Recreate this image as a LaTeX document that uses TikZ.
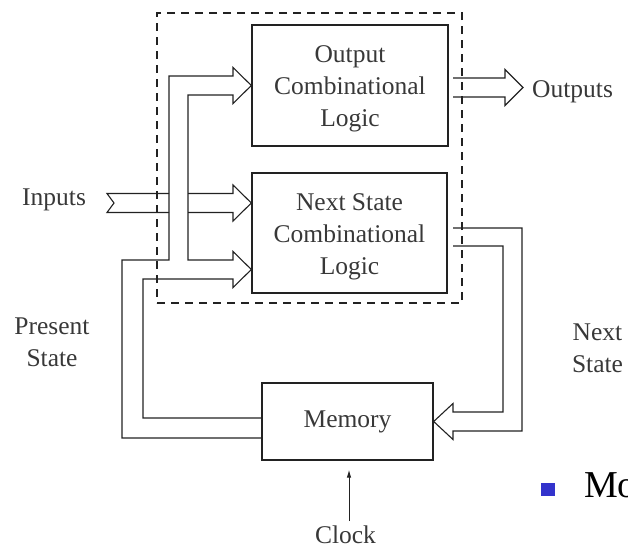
\documentclass[tikz,border=0pt]{standalone}
\usepackage{fontspec}
\setmainfont{Liberation Serif}
\usetikzlibrary{arrows.meta}
\definecolor{bul}{HTML}{3333CC}
\definecolor{ink}{HTML}{222222}
\begin{document}
\begin{tikzpicture}[x=1pt,y=-1pt,
  bus/.style={draw=ink, line width=1.1pt, line join=miter},
  blk/.style={draw=ink, line width=1.3pt, inner sep=0pt},
  lbl/.style={font=\fontsize{25.5}{32}\selectfont, text=ink!90, inner sep=0pt},
  dashbox/.style={draw=ink, line width=1.1pt, dash pattern=on 8pt off 6pt, inner sep=0pt}]
\useasboundingbox (0,0) rectangle (628,550);

% blocks
\node[blk, minimum width=196pt, minimum height=121pt] (obox) at (350,85.5) {};
\node[lbl, align=center] (otext) at ([yshift=-3.7pt]obox.center) {Output\\Combinational\\Logic};
\node[blk, minimum width=195pt, minimum height=120pt] (nbox) at (349.5,233) {};
\node[lbl, align=center] (ntext) at ([yshift=-4pt]nbox.center) {Next State\\Combinational\\Logic};
\node[blk, lbl, minimum width=171pt, minimum height=77pt] (mem) at (347.5,421.5) {Memory};
\node[dashbox, minimum width=305pt, minimum height=290pt] (dash) at (309.5,158) {};

% labels
\node[lbl, anchor=base west] (inputs) at (22,205) {Inputs};
\node[lbl, anchor=base west] (outputs) at (532,97) {Outputs};
\node[lbl, align=center] (pstate) at (52,342.5) {Present\\State};
\node[lbl, align=center] (nstate) at (597.5,348) {Next\\State};
\node[lbl, anchor=base] (clock) at (345.5,543) {Clock};
\node[fill=bul, minimum size=13.5pt, inner sep=0pt] (bullet) at (548,489.5) {};
\node[anchor=base west, inner sep=0pt, font=\fontsize{38}{40}\selectfont] (mo) at (584,497) {Mo};

% coordinates
\coordinate (ytop) at (0,85.5);
\coordinate (yin) at (0,203);
\coordinate (ylow) at (0,269.5);
\coordinate (yo) at (0,438);
\coordinate (yi) at (0,418);
\coordinate (clk) at (349,521);

% present state bus (memory -> both logic blocks)
\draw[bus] (mem.west |- yo) -- (122,438) -- (122,260) -- (169,260) -- (169,76)
  -- (233,76) -- (233,67.5) -- (obox.west |- ytop) -- (233,103.5) -- (233,95)
  -- (188,95) -- (188,260) -- (233,260) -- (233,251.5) -- (nbox.west |- ylow)
  -- (233,287.5) -- (233,279) -- (143,279) -- (143,418) -- (mem.west |- yi);

% inputs bus
\draw[bus] (169,193.5) -- (107,193.5) -- (114,203) -- (107,212.5) -- (169,212.5);
\draw[bus] (188,193.5) -- (233,193.5) -- (233,185) -- (nbox.west |- yin)
  -- (233,221) -- (233,212.5) -- (188,212.5);

% outputs bus
\draw[bus] (453,78) -- (505,78) -- (505,69.5) -- (523,87.5) -- (505,105.5)
  -- (505,97) -- (453,97);

% next state bus
\draw[bus] (453,228) -- (522,228) -- (522,431) -- (453,431) -- (453,439.5)
  -- (mem.east) -- (453,403.5) -- (453,412) -- (503,412) -- (503,246) -- (453,246);

% clock
\draw[draw=ink, line width=0.9pt, -{Latex[length=8pt,width=4.5pt]}, shorten >=9pt]
  (clk) -- (clk |- mem.south);
\end{tikzpicture}
\end{document}
